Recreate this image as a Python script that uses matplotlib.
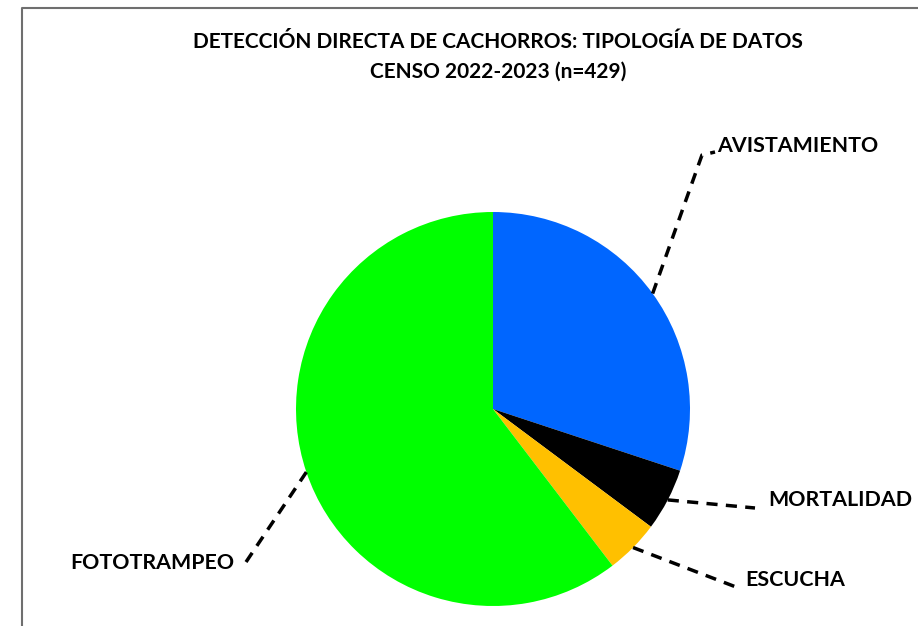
import numpy as np
import matplotlib.pyplot as plt

# datos del censo (n=429)
categorias = ["AVISTAMIENTO", "MORTALIDAD", "ESCUCHA", "FOTOTRAMPEO"]
valores = [129, 22, 19, 259]
colores = ["#0066FF", "#000000", "#FFC000", "#00FF00"]

W, H = 918, 626
fig = plt.figure(figsize=(W / 100, H / 100), dpi=100)
ax = fig.add_axes([0, 0, 1, 1])

# marco gris
ax.plot([22, 22, W], [0, H - 8, H - 8], color="#6f6f6f", lw=1.5)

centro = (493, H - 409)
radio = 197
wedges, _ = ax.pie(
    valores,
    colors=colores,
    startangle=90,
    counterclock=False,
    center=centro,
    radius=radio,
    frame=True,
)
ax.set_xlim(0, W)
ax.set_ylim(0, H)
ax.set_aspect("equal")
ax.axis("off")

fuente = "Lato"
ax.text(498, H - 42, "DETECCIÓN DIRECTA DE CACHORROS: TIPOLOGÍA DE DATOS",
        ha="center", va="center", fontsize=15, fontweight="bold", family=fuente)
ax.text(498, H - 72, "CENSO 2022-2023 (n=429)",
        ha="center", va="center", fontsize=15, fontweight="bold", family=fuente)

# etiquetas con líneas guía (codo, extremo, posición del texto, alineación)
guias = {
    "AVISTAMIENTO": ([(702, 155), (715, 152)], (717, 146), "left"),
    "MORTALIDAD": ([(755, 508)], (768, 500), "left"),
    "ESCUCHA": ([(736, 587)], (745, 580), "left"),
    "FOTOTRAMPEO": ([(242, 568)], (234, 563), "right"),
}
for w, cat in zip(wedges, categorias):
    ang = np.deg2rad((w.theta1 + w.theta2) / 2)
    x0 = centro[0] + radio * np.cos(ang)
    y0 = centro[1] + radio * np.sin(ang)
    puntos, pos_txt, alin = guias[cat]
    xs = [x0] + [p[0] for p in puntos]
    ys = [y0] + [H - p[1] for p in puntos]
    ax.plot(xs, ys, color="black", lw=2.5, linestyle=(0, (3.2, 2.4)))
    ax.text(pos_txt[0], H - pos_txt[1], cat, ha=alin, va="center",
            fontsize=15.4, fontweight="bold", family=fuente)

fig.savefig("out.png", dpi=100)
